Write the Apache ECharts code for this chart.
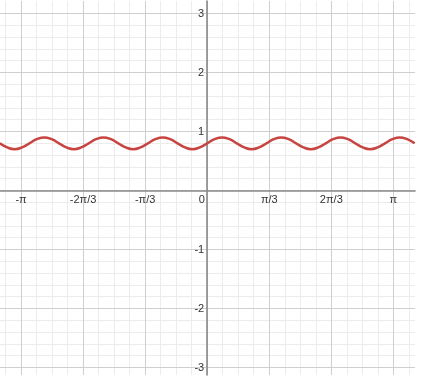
<!DOCTYPE html>
<html>
<head>
<meta charset="utf-8">
<script src="https://cdn.jsdelivr.net/npm/echarts@6/dist/echarts.min.js"></script>
<style>html,body{margin:0;padding:0;background:#fff}#c{width:440px;height:381px}</style>
</head>
<body>
<div id="c"></div>
<script>
// ---- data ----
const curveX = [-3.5, -3.375, -3.25, -3.125, -3, -2.875, -2.75, -2.625,
  -2.5, -2.375, -2.25, -2.125, -2, -1.875, -1.75, -1.625,
  -1.5, -1.375, -1.25, -1.125, -1, -0.875, -0.75, -0.625,
  -0.5, -0.375, -0.25, -0.125, 0, 0.125, 0.25, 0.375,
  0.5, 0.625, 0.75, 0.875, 1, 1.125, 1.25, 1.375,
  1.5, 1.625, 1.75, 1.875, 2, 2.125, 2.25, 2.375,
  2.5, 2.625, 2.75, 2.875, 3, 3.125, 3.25, 3.375, 3.5];
const curveY = [0.8, 0.73, 0.7, 0.73, 0.8, 0.87, 0.9, 0.87,
  0.8, 0.73, 0.7, 0.73, 0.8, 0.87, 0.9, 0.87,
  0.8, 0.73, 0.7, 0.73, 0.8, 0.87, 0.9, 0.87,
  0.8, 0.73, 0.7, 0.73, 0.8, 0.87, 0.9, 0.87,
  0.8, 0.73, 0.7, 0.73, 0.8, 0.87, 0.9, 0.87,
  0.8, 0.73, 0.7, 0.73, 0.8, 0.87, 0.9, 0.87,
  0.8, 0.73, 0.7, 0.73, 0.8, 0.87, 0.9, 0.87, 0.8];
// x tick labels at multiples of π/3
const xTickSteps = [-3, -2, -1, 0, 1, 2, 3];
const xTickLabels = ['-π', '-2π/3', '-π/3', '0', 'π/3', '2π/3', 'π'];
// y tick labels at integers (0 is shown by the x axis)
const yTickValues = [-3, -2, -1, 0, 1, 2, 3];
const yTickLabels = ['-3', '-2', '-1', '', '1', '2', '3'];

// ---- layout ----
const PLOT_L = 0, PLOT_R = 415, PLOT_T = 1, PLOT_B = 375;
const ORIGIN_X = 207.2, ORIGIN_Y = 190.5, PX_X = 59.26, PX_Y = 59.0;
const xMin = (PLOT_L - ORIGIN_X) / PX_X, xMax = (PLOT_R - ORIGIN_X) / PX_X;
const yMax = (ORIGIN_Y - PLOT_T) / PX_Y, yMin = -(PLOT_B - ORIGIN_Y) / PX_Y;
const MINOR_X = Math.PI / 12, MAJOR_X = Math.PI / 3;
const MINOR_Y = 0.2, MAJOR_Y = 1;
const NX_MINOR = 13, NX_MAJOR = 3, NY_MINOR = 15, NY_MAJOR = 3;

const MINOR_COLOR = '#ececec', MAJOR_COLOR = '#cfcfcf', AXIS_COLOR = '#8a8a8a';
const LABEL_FONT = { fontFamily: 'Liberation Sans, Arial, sans-serif', fontSize: 11, color: '#333' };

const silentAxis = (gi, min, max) => ({ gridIndex: gi, type: 'value', min, max, show: false });

const grids = [
  { left: PLOT_L, top: PLOT_T, width: PLOT_R - PLOT_L, height: PLOT_B - PLOT_T },
  { left: ORIGIN_X - NX_MINOR * MINOR_X * PX_X, width: 2 * NX_MINOR * MINOR_X * PX_X, top: PLOT_T, height: PLOT_B - PLOT_T },
  { left: ORIGIN_X - NX_MAJOR * MAJOR_X * PX_X, width: 2 * NX_MAJOR * MAJOR_X * PX_X, top: PLOT_T, height: PLOT_B - PLOT_T },
  { left: PLOT_L, width: PLOT_R - PLOT_L, top: ORIGIN_Y - NY_MINOR * MINOR_Y * PX_Y, height: 2 * NY_MINOR * MINOR_Y * PX_Y },
  { left: PLOT_L, width: PLOT_R - PLOT_L, top: ORIGIN_Y - NY_MAJOR * MAJOR_Y * PX_Y, height: 2 * NY_MAJOR * MAJOR_Y * PX_Y }
];

const option = {
  animation: false,
  backgroundColor: '#fff',
  grid: grids,
  xAxis: [
    { gridIndex: 0, type: 'value', min: xMin, max: xMax, z: 5,
      axisLine: { show: true, onZero: true, lineStyle: { color: AXIS_COLOR, width: 1.6 } },
      axisTick: { show: false }, axisLabel: { show: false }, splitLine: { show: false } },
    { gridIndex: 1, type: 'value', min: -NX_MINOR, max: NX_MINOR, interval: 1, z: 0,
      axisLine: { show: false, onZero: false }, axisTick: { show: false }, axisLabel: { show: false },
      splitLine: { show: true, lineStyle: { color: MINOR_COLOR, width: 1 } } },
    { gridIndex: 2, type: 'value', min: -NX_MAJOR, max: NX_MAJOR, interval: 1, z: 2,
      position: 'bottom', offset: -(PLOT_B - ORIGIN_Y),
      axisLine: { show: false, onZero: false },
      axisTick: { show: false },
      axisLabel: { show: true, interval: 0, margin: 4, showMinLabel: true, showMaxLabel: true,
        ...LABEL_FONT,
        formatter: v => {
          const i = xTickSteps.indexOf(Math.round(v));
          const t = i >= 0 ? xTickLabels[i] : '';
          return Math.round(v) === 0 ? '{z|' + t + '}' : t;
        },
        rich: { z: { ...LABEL_FONT, padding: [0, 11, 0, 0] } } },
      splitLine: { show: true, lineStyle: { color: MAJOR_COLOR, width: 1 } } },
    silentAxis(3, xMin, xMax),
    silentAxis(4, xMin, xMax)
  ],
  yAxis: [
    { gridIndex: 0, type: 'value', min: yMin, max: yMax, z: 5,
      axisLine: { show: true, onZero: true, lineStyle: { color: AXIS_COLOR, width: 1.6 } },
      axisTick: { show: false }, axisLabel: { show: false }, splitLine: { show: false } },
    silentAxis(1, yMin, yMax),
    silentAxis(2, yMin, yMax),
    { gridIndex: 3, type: 'value', min: -NY_MINOR, max: NY_MINOR, interval: 1, z: 0,
      axisLine: { show: false, onZero: false }, axisTick: { show: false }, axisLabel: { show: false },
      splitLine: { show: true, lineStyle: { color: MINOR_COLOR, width: 1 } } },
    { gridIndex: 4, type: 'value', min: -NY_MAJOR, max: NY_MAJOR, interval: 1, z: 2,
      position: 'left', offset: -(ORIGIN_X - PLOT_L),
      axisLine: { show: false, onZero: false },
      axisTick: { show: false },
      axisLabel: { show: true, interval: 0, margin: 3, showMinLabel: true, showMaxLabel: true,
        ...LABEL_FONT,
        formatter: v => {
          const i = yTickValues.indexOf(Math.round(v));
          return i >= 0 ? yTickLabels[i] : '';
        } },
      splitLine: { show: true, lineStyle: { color: MAJOR_COLOR, width: 1 } } }
  ],
  series: [{
    type: 'line', xAxisIndex: 0, yAxisIndex: 0, z: 10,
    data: curveX.map((x, i) => [x, curveY[i]]),
    showSymbol: false, smooth: true, clip: true,
    lineStyle: { color: '#c74440', width: 2.5 }
  }]
};

const chart = echarts.init(document.getElementById('c'), null, { renderer: 'canvas' });
chart.setOption(option);
</script>
</body>
</html>
